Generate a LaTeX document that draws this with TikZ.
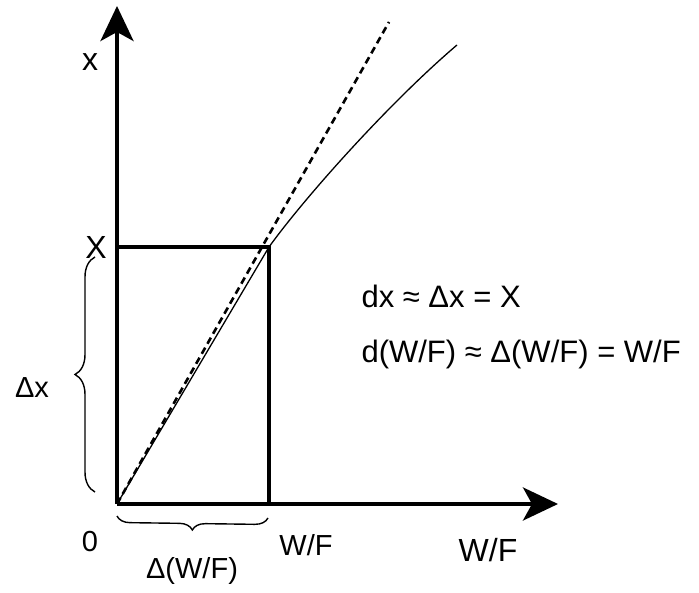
\documentclass[tikz,border=0pt]{standalone}
\usepackage{fontspec}
\setmainfont{Liberation Sans}
\usepackage{tikz}
\usetikzlibrary{arrows.meta,decorations.pathreplacing}
\tikzset{
  axisarr/.style  = {-{Stealth[length=35pt,width=33pt,inset=9pt]},line width=4pt},
  boxline/.style  = {line width=3.2pt},
  curveline/.style= {line width=1.3pt},
  tangline/.style = {line width=2.6pt,dash pattern=on 7pt off 4.5pt},
  bracel/.style   = {decorate,decoration={brace,amplitude=#1},line width=1.4pt},
  biglbl/.style   = {font=\fontsize{32}{38}\selectfont},
  midlbl/.style   = {font=\fontsize{29}{35}\selectfont},
  eqlbl/.style    = {font=\fontsize{31}{37}\selectfont,anchor=base west}
}
\begin{document}
\begin{tikzpicture}[x=1pt,y=1pt]
  \useasboundingbox (0,0) rectangle (699,592);
  \coordinate (O)  at (117,88);
  \coordinate (xt) at (117,586);
  \coordinate (wt) at (558,88);
  \coordinate (P)  at (269,345);
  \coordinate (Px) at (117,345);
  \coordinate (Pw) at (269,88);
  \coordinate (T)  at (389,570);
  \coordinate (C)  at (457,547);
  % axes
  \draw[axisarr] (O) -- (xt);
  \draw[axisarr] (O) -- (wt);
  % box under the corner point
  \draw[boxline] (Px) -- (P) -- (Pw);
  % curve and its secant
  \draw[curveline] (O) -- (P) .. controls (305,395) and (390,490) .. (C);
  \draw[tangline] (O) -- (T);
  % braces
  \draw[bracel=20pt] (95,100) -- (95,335);
  \draw[bracel=13pt,decoration={mirror}] (117,76) -- (268,74);
  % labels
  \node[biglbl] (xlbl)  at (90,530) {x};
  \node[biglbl] (Xlbl)  at (96,345) {X};
  \node[midlbl] (dxlbl) at (32,204) {Δx};
  \node[midlbl] (zero)  at (90,50)  {0};
  \node[midlbl] (wflbl) at (306,47) {W/F};
  \node[biglbl] (wfax)  at (488,42) {W/F};
  \node[midlbl] (dwf)   at (192,21) {Δ(W/F)};
  \node[eqlbl]  (eqa)   at (358,284) {dx ≈ Δx = X};
  \node[eqlbl]  (eqb)   at (358,229) {d(W/F) ≈ Δ(W/F) = W/F};
\end{tikzpicture}
\end{document}
